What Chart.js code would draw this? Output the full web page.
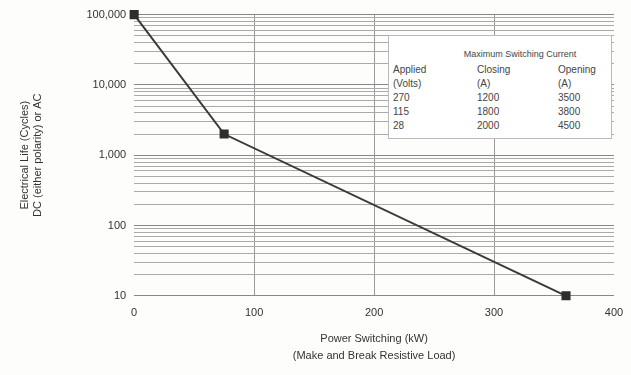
<!DOCTYPE html>
<html lang="en">
<head>
    <meta charset="UTF-8">
    <title>Electrical Life vs Power Switching</title>
    <script src="https://cdn.jsdelivr.net/npm/chart.js"></script>
    <style>
        body {
            margin: 0;
            padding: 0;
            background: #fdfdfb;
            font-family: 'Liberation Sans', Arial, sans-serif;
        }

        .wrap {
            position: relative;
            width: 631px;
            height: 375px;
        }

        /* switching current table sits over the plot */
        .current-box {
            position: absolute;
            left: 388px;
            top: 35px;
            width: 222px;
            height: 102px;
            background: #fff;
            border: 1px solid #bbb;
            color: #444;
            font-size: 10px;
        }

        .current-box .title {
            text-align: center;
            font-size: 9px;
            line-height: 11px;
            margin: 13px 0 3px 40px;
        }

        .current-box table {
            border-collapse: collapse;
            margin-left: 4px;
        }

        .current-box td {
            padding: 0;
            height: 14px;
            line-height: 14px;
        }
    </style>
</head>
<body>

    <div class="wrap">
        <canvas id="lifeChart" width="631" height="375"></canvas>
        <div class="current-box" id="currentBox">
            <div class="title">Maximum Switching Current</div>
            <table id="currentTable"></table>
        </div>
    </div>

    <script>
        // curve points
        const powerKw = [0, 75, 360];
        const lifeCycles = [100000, 2000, 10];

        // axis ticks
        const xTicks = [0, 100, 200, 300, 400];
        const yDecades = [10, 100, 1000, 10000, 100000];

        // switching current table
        const tableHead = [['Applied', 'Closing', 'Opening'], ['(Volts)', '(A)', '(A)']];
        const appliedVolts = ['270', '115', '28'];
        const closingAmps = ['1200', '1800', '2000'];
        const openingAmps = ['3500', '3800', '4500'];

        // build the table
        const colWidths = [84, 81, 53];
        let rows = tableHead.slice();
        appliedVolts.forEach((v, i) => rows.push([v, closingAmps[i], openingAmps[i]]));
        document.getElementById('currentTable').innerHTML = rows.map(r =>
            '<tr>' + r.map((c, j) => '<td style="width:' + colWidths[j] + 'px">' + c + '</td>').join('') + '</tr>'
        ).join('');

        // log grid: every 1..9 step inside each decade
        let yGrid = [];
        yDecades.forEach(d => {
            if (d === 100000) { yGrid.push(d); return; }
            for (let k = 1; k <= 9; k++) yGrid.push(d * k);
        });

        const ctx = document.getElementById('lifeChart').getContext('2d');
        const chart = new Chart(ctx, {
            type: 'line',
            data: {
                datasets: [{
                    data: powerKw.map((x, i) => ({ x: x, y: lifeCycles[i] })),
                    borderColor: '#3a3a3a',
                    borderWidth: 2,
                    pointStyle: 'rect',
                    pointRadius: 5,
                    pointBackgroundColor: '#2e2e2e',
                    pointBorderColor: '#2e2e2e',
                    tension: 0,
                    clip: false
                }]
            },
            options: {
                responsive: false,
                animation: false,
                layout: { autoPadding: false, padding: { left: 14, right: 7, top: 10, bottom: 7 } },
                plugins: {
                    legend: { display: false },
                    tooltip: { enabled: false }
                },
                scales: {
                    x: {
                        type: 'linear',
                        min: 0,
                        max: 400,
                        afterBuildTicks: s => { s.ticks = xTicks.map(v => ({ value: v })); },
                        // tick padding also widens the side padding, keep the right edge where it was
                        afterFit: s => { s.paddingRight = 17; },
                        ticks: { color: '#333', font: { size: 11 }, padding: 11 },
                        grid: {
                            color: c => (c.tick && (c.tick.value === 0 || c.tick.value === 400)) ? 'rgba(0,0,0,0)' : '#999',
                            lineWidth: 1,
                            drawTicks: false
                        },
                        border: { display: false },
                        title: {
                            display: true,
                            text: ['Power Switching (kW)', '(Make and Break Resistive Load)'],
                            color: '#333',
                            font: { size: 11, lineHeight: 1.5 },
                            padding: { top: 0 }
                        }
                    },
                    y: {
                        type: 'logarithmic',
                        min: 10,
                        max: 100000,
                        afterBuildTicks: s => { s.ticks = yGrid.map(v => ({ value: v })); },
                        ticks: {
                            color: '#333',
                            font: { size: 11 },
                            padding: 8,
                            autoSkip: false,
                            callback: v => yDecades.includes(v) ? v.toLocaleString('en-US') : ''
                        },
                        grid: {
                            color: c => (c.tick && yDecades.includes(c.tick.value)) ? '#888' : '#aaa',
                            lineWidth: 1,
                            drawTicks: false
                        },
                        border: { display: false },
                        title: {
                            display: true,
                            text: ['Electrical Life (Cycles)', 'DC (either polarity) or AC'],
                            color: '#333',
                            font: { size: 11 },
                            padding: { bottom: 34 }
                        }
                    }
                }
            }
        });
    </script>

</body>
</html>
